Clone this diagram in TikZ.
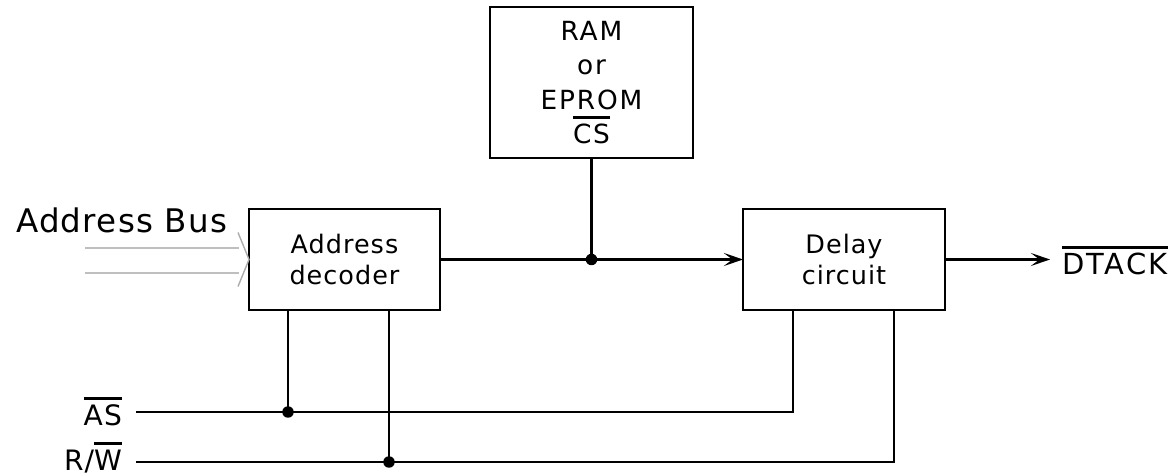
\documentclass[tikz,border=0pt]{standalone}
\usepackage{fontspec}
\setmainfont{DejaVu Sans}[LetterSpace=4]
\usetikzlibrary{arrows.meta}
\newcommand{\ovl}[1]{\leavevmode\vbox{\hrule height 1.7pt\kern 2.6pt\hbox{#1}}}
\begin{document}
\begin{tikzpicture}[x=0.02cm,y=-0.02cm,line width=1.2pt,
    blk/.style={draw,outer sep=0pt,align=center,
      font=\fontsize{14.5}{18}\selectfont},
    lbl/.style={inner sep=0pt,font=\fontsize{16}{18}\selectfont},
    >={Stealth[length=11pt,width=7.5pt,inset=5pt]},
    dot/.style={circle,fill,inner sep=0pt,minimum size=0.23cm}]
  \useasboundingbox (0,0) rectangle (1174,476);
  % blocks
  \node[blk,minimum width=4.06cm,minimum height=3.02cm,
    font=\addfontfeature{LetterSpace=7}\fontsize{15}{19.5}\selectfont] (ram) at (591.5,82.5) {RAM\\or\\EPROM\\\ovl{CS}};
  \node[blk,minimum width=3.82cm,minimum height=2.02cm] (dec) at (344.5,259.5) {Address\\decoder};
  \node[blk,minimum width=4.04cm,minimum height=2.02cm] (del) at (844,259.5) {Delay\\circuit};
  % labels
  \node[lbl,anchor=base west,font=\fontsize{18.5}{20}\selectfont] (bus) at (15,233) {Address Bus};
  \node[lbl,anchor=base west,font=\addfontfeature{LetterSpace=8}\fontsize{16.5}{18}\selectfont] (dtack) at (1061,275) {\ovl{DTACK}};
  \node[lbl,anchor=base east] (as) at (123,425) {\ovl{AS}};
  \node[lbl,anchor=base east] (rw) at (123,470) {R/\ovl{W}};
  % address bus
  \coordinate (b1) at (85,248);
  \coordinate (b2) at (85,273);
  \draw[gray!50,line width=1.6pt] (b1) -- ++(154,0) (b2) -- ++(154,0);
  \draw[gray!65,line width=0.8pt] (dec.west) ++(-11,-27) -- ++(11,27) -- ++(-11,27);
  % chip select to delay
  \coordinate (cs) at (ram.south |- dec.east);
  \draw[->] (dec.east) -- (del.west);
  \draw (ram.south) -- (cs);
  \node[dot] (j0) at (cs) {};
  \coordinate (dt) at (1050,259.5);
  \draw[->] (del.east) -- (dt);
  % strobes
  \coordinate (asin) at (136,412);
  \coordinate (rwin) at (136,462);
  \coordinate (asdec) at (288,310);
  \coordinate (rwdec) at (389,310);
  \coordinate (asdel) at (793,310);
  \coordinate (rwdel) at (894,310);
  \draw (asin) -| (asdel);
  \draw (rwin) -| (rwdel);
  \draw (asdec) -- (asdec |- asin);
  \draw (rwdec) -- (rwdec |- rwin);
  \node[dot] (j1) at (asdec |- asin) {};
  \node[dot] (j2) at (rwdec |- rwin) {};
\end{tikzpicture}
\end{document}
